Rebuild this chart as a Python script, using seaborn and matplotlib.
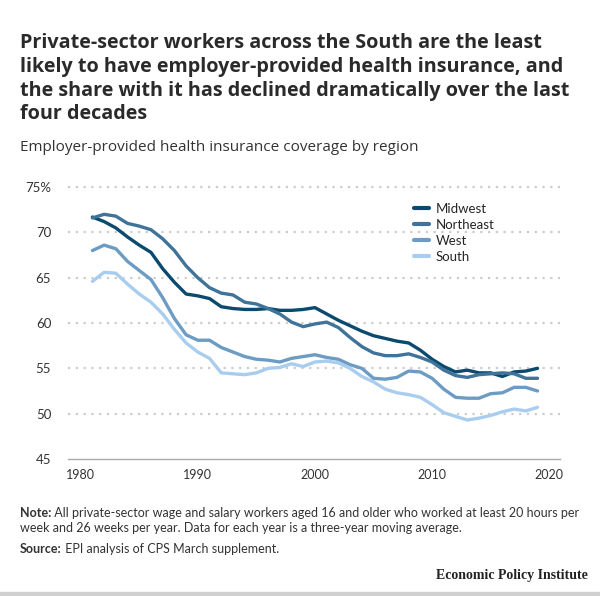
import numpy as np
import pandas as pd
import matplotlib
matplotlib.use("Agg")
import matplotlib.pyplot as plt
from matplotlib.transforms import offset_copy
import seaborn as sns

years = list(range(1981, 2020))
midwest = [71.7, 71.2, 70.5, 69.5, 68.6, 67.8, 66.0, 64.5, 63.2, 63.0, 62.7, 61.8, 61.6, 61.5, 61.5,
           61.6, 61.4, 61.4, 61.5, 61.7, 61.0, 60.3, 59.7, 59.1, 58.6, 58.3, 58.0, 57.8, 57.0, 56.0,
           55.2, 54.6, 54.8, 54.5, 54.5, 54.1, 54.6, 54.7, 55.0]
northeast = [71.6, 72.0, 71.8, 71.0, 70.7, 70.3, 69.3, 68.0, 66.3, 65.0, 63.9, 63.3, 63.1, 62.3, 62.1,
             61.6, 61.0, 60.1, 59.6, 59.9, 60.1, 59.5, 58.4, 57.4, 56.7, 56.4, 56.4, 56.6, 56.2, 55.7,
             54.8, 54.2, 54.0, 54.3, 54.4, 54.5, 54.4, 53.9, 53.9]
west = [68.0, 68.6, 68.2, 66.8, 65.8, 64.8, 62.8, 60.5, 58.7, 58.1, 58.1, 57.3, 56.8, 56.3, 56.0,
        55.9, 55.7, 56.1, 56.3, 56.5, 56.2, 56.0, 55.4, 55.0, 53.9, 53.8, 54.0, 54.7, 54.6, 53.9,
        52.7, 51.8, 51.7, 51.7, 52.2, 52.3, 52.9, 52.9, 52.5]
south = [64.6, 65.6, 65.5, 64.3, 63.2, 62.3, 61.0, 59.3, 57.8, 56.8, 56.1, 54.5, 54.4, 54.3, 54.5,
         55.0, 55.1, 55.5, 55.2, 55.7, 55.8, 55.6, 55.0, 54.1, 53.5, 52.7, 52.3, 52.1, 51.8, 51.0,
         50.1, 49.7, 49.3, 49.5, 49.8, 50.2, 50.5, 50.3, 50.7]
regions = ["Midwest", "Northeast", "West", "South"]
colors = ["#0b4a6f", "#3f7399", "#6c9cc4", "#a8cdef"]
xticks = [1980, 1990, 2000, 2010, 2020]
yticks = [45, 50, 55, 60, 65, 70, 75]
ytick_labels = ["45", "50", "55", "60", "65", "70", "75%"]

df = pd.DataFrame({
    "year": years * 4,
    "value": midwest + northeast + west + south,
    "region": sum([[r] * len(years) for r in regions], []),
})

sns.set_style("white")
plt.rcParams["font.family"] = ["Lato", "DejaVu Sans"]

fig = plt.figure(figsize=(6, 5.96), dpi=100)
ax = fig.add_axes([0.113, 0.230, 0.82, 0.456])

sns.lineplot(data=df, x="year", y="value", hue="region", hue_order=regions,
             palette=colors, linewidth=2.4, ax=ax, legend=True)

ax.set_xlim(1978.9, 2020.9)
ax.set_ylim(45, 75)
ax.set_xticks(xticks)
ax.set_xticklabels([str(t) for t in xticks], fontsize=9, color="#333333")
ax.set_yticks(yticks)
ax.set_yticklabels(ytick_labels, fontsize=9.5, color="#333333")
ax.set_xlabel("")
ax.set_ylabel("")
ax.tick_params(axis="y", length=0, pad=12)
ax.tick_params(axis="x", length=4, color="#aaaaaa", width=1, pad=3, direction="out")

for y in yticks[1:]:
    ax.axhline(y, color="#cccccc", linestyle=(0, (1, 2.5)), linewidth=1.6, zorder=0, clip_on=False)
for s in ["top", "right", "left"]:
    ax.spines[s].set_visible(False)
ax.spines["bottom"].set_color("#aaaaaa")
ax.spines["bottom"].set_linewidth(1)

leg = ax.legend(loc="upper left", bbox_to_anchor=(0.68, 0.985), frameon=False, fontsize=9.5,
                handlelength=1.1, handletextpad=0.5, labelspacing=0.3)
for line in leg.get_lines():
    line.set_linewidth(3)

fig.text(0.033, 0.944, "Private-sector workers across the South are the least\n"
         "likely to have employer-provided health insurance, and\n"
         "the share with it has declined dramatically over the last\n"
         "four decades", family=["Open Sans", "DejaVu Sans"],
         fontsize=14.2, fontweight="bold", color="#2a2a2a",
         va="top", ha="left", linespacing=1.24)
fig.text(0.033, 0.752, "Employer-provided health insurance coverage by region",
         family=["Open Sans", "DejaVu Sans"],
         fontsize=11, color="#333333", va="center", ha="left")

renderer = fig.canvas.get_renderer()
fs = 9.0
note_b = fig.text(0.033, 0.1326, "Note:", fontsize=fs, fontweight="bold", color="#333333",
                  va="baseline", ha="left")
w = note_b.get_window_extent(renderer).width
fig.text(0.033, 0.1326, " All private-sector wage and salary workers aged 16 and older who worked at least 20 hours per",
         fontsize=fs, color="#333333", va="baseline", ha="left",
         transform=offset_copy(fig.transFigure, fig=fig, x=w, y=0, units="dots"))
fig.text(0.033, 0.1074, "week and 26 weeks per year. Data for each year is a three-year moving average.",
         fontsize=fs, color="#333333", va="baseline", ha="left")
src_b = fig.text(0.033, 0.0721, "Source:", fontsize=fs, fontweight="bold", color="#333333",
                 va="baseline", ha="left")
w2 = src_b.get_window_extent(renderer).width
fig.text(0.033, 0.0721, " EPI analysis of CPS March supplement.",
         fontsize=fs, color="#333333", va="baseline", ha="left",
         transform=offset_copy(fig.transFigure, fig=fig, x=w2, y=0, units="dots"))
fig.text(0.98, 0.0285, "Economic Policy Institute", family=["Liberation Serif", "DejaVu Serif"],
         fontsize=10, fontweight="bold", color="#222222", va="baseline", ha="right")

fig.patches.append(plt.Rectangle((0, 0), 1, 0.006, transform=fig.transFigure,
                                 color="#d0d0d0", zorder=5))

fig.savefig("out.png", dpi=100)
